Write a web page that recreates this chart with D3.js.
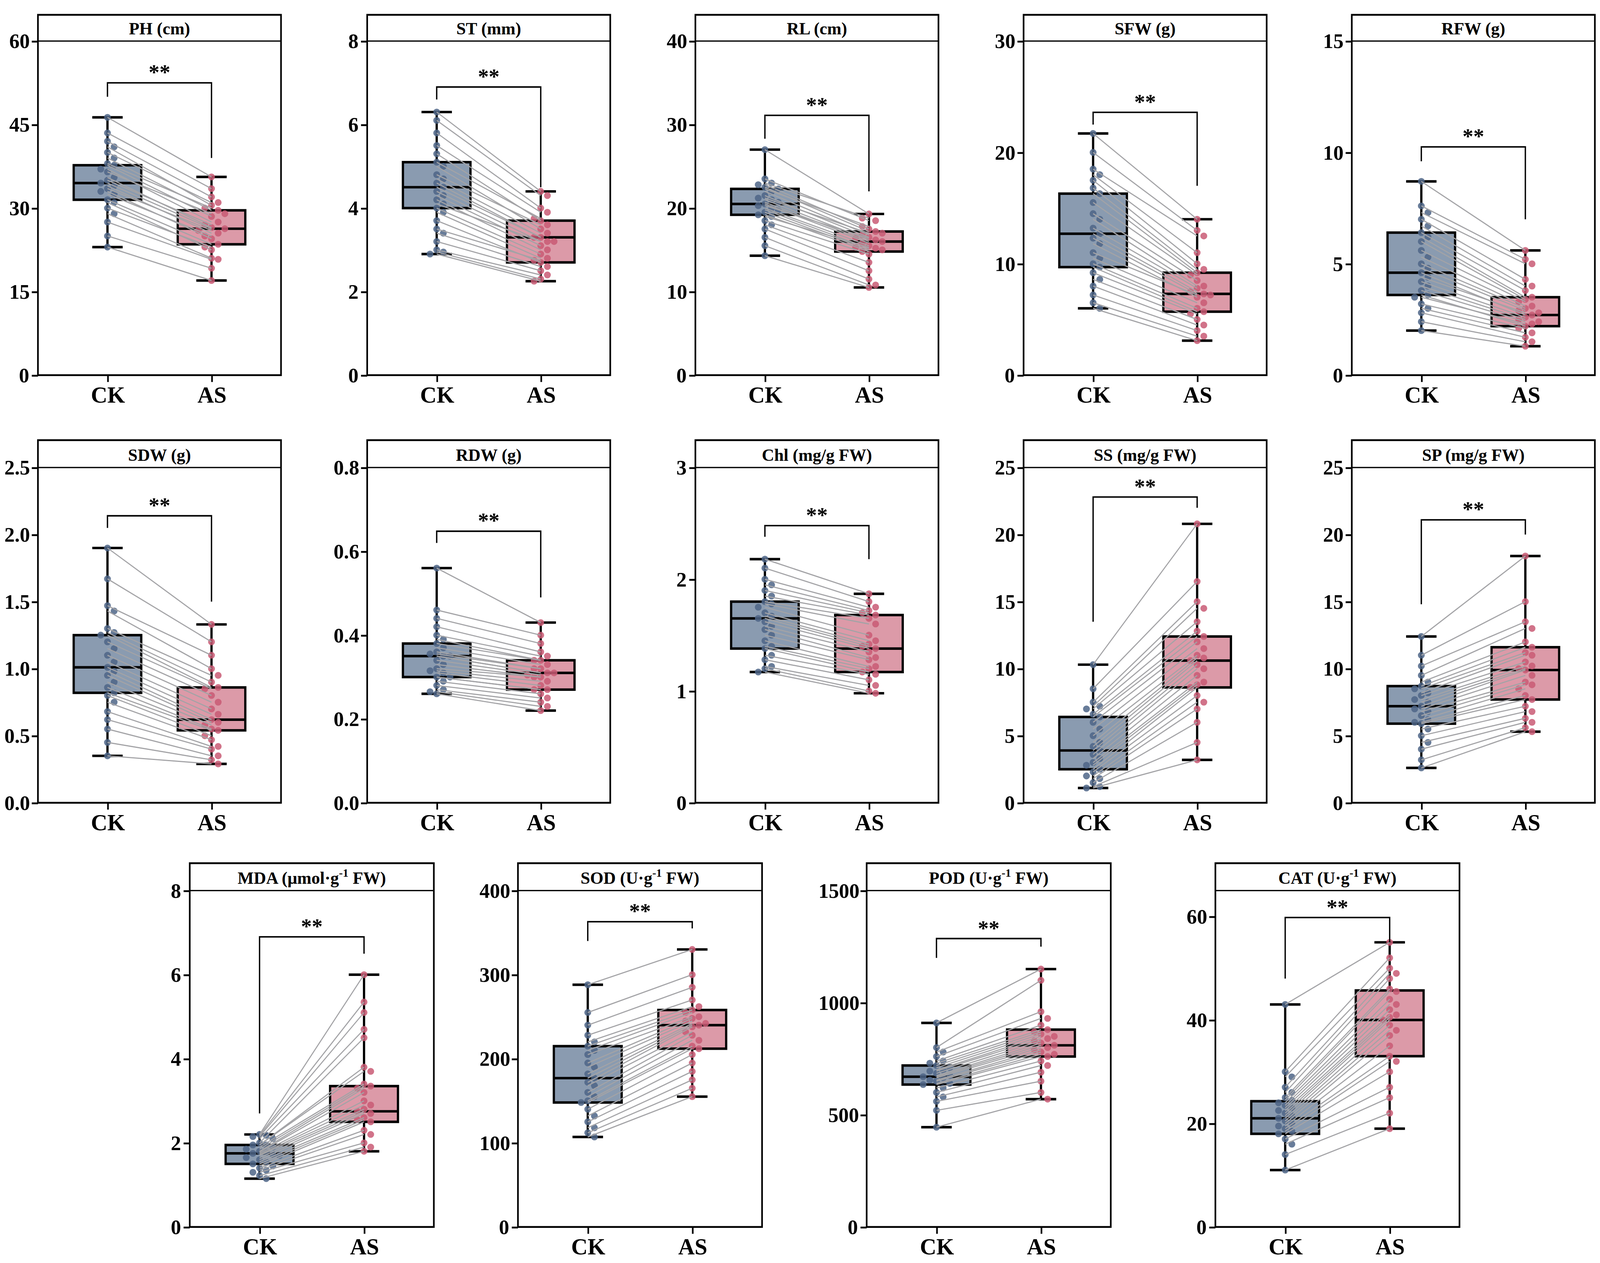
<!DOCTYPE html>
<html>
<head>
<meta charset="utf-8">
<script src="https://cdn.jsdelivr.net/npm/d3@7"></script>
<style>
  html, body { margin: 0; padding: 0; background: #fff; overflow: hidden; }
  svg { display: block; width: 100vw; height: 100vh; }
  text { font-family: "Liberation Serif", "Times New Roman", serif; font-weight: bold; }
</style>
</head>
<body>
<div id="chart"></div>
<script>
// panel names, y-axis ranges and ticks
var titles = ["PH (cm)", "ST (mm)", "RL (cm)", "SFW (g)", "RFW (g)",
  "SDW (g)", "RDW (g)", "Chl (mg/g FW)", "SS (mg/g FW)", "SP (mg/g FW)",
  "MDA (μmol·g|-1| FW)", "SOD (U·g|-1| FW)", "POD (U·g|-1| FW)", "CAT (U·g|-1| FW)"];
var yMax = [60, 8, 40, 30, 15, 2.5, 0.8, 3, 25, 25, 8, 400, 1500, 65];
var yTicks = [[0, 15, 30, 45, 60], [0, 2, 4, 6, 8], [0, 10, 20, 30, 40], [0, 10, 20, 30], [0, 5, 10, 15],
  [0, 0.5, 1, 1.5, 2, 2.5], [0, 0.2, 0.4, 0.6, 0.8], [0, 1, 2, 3], [0, 5, 10, 15, 20, 25], [0, 5, 10, 15, 20, 25],
  [0, 2, 4, 6, 8], [0, 100, 200, 300, 400], [0, 500, 1000, 1500], [0, 20, 40, 60]];
var tickFmt = [0, 0, 0, 0, 0, 1, 1, 0, 0, 0, 0, 0, 0, 0];
var groups = ["CK", "AS"];

// box stats: min, q1, median, q3, max
var ckStats = [[23, 31.5, 34.5, 37.7, 46.3], [2.9, 4.0, 4.5, 5.1, 6.3], [14.3, 19.2, 20.5, 22.3, 27], [6, 9.7, 12.7, 16.3, 21.7], [2, 3.6, 4.6, 6.4, 8.7],
  [0.35, 0.82, 1.01, 1.25, 1.9], [0.26, 0.3, 0.35, 0.38, 0.56], [1.17, 1.38, 1.65, 1.8, 2.18], [1.1, 2.5, 3.9, 6.4, 10.3], [2.6, 5.9, 7.2, 8.7, 12.4],
  [1.15, 1.5, 1.75, 1.95, 2.2], [107, 148, 177, 215, 288], [445, 635, 670, 720, 910], [11, 18, 21, 24.3, 43]];
var asStats = [[17, 23.5, 26.3, 29.6, 35.6], [2.25, 2.7, 3.3, 3.7, 4.4], [10.5, 14.8, 16, 17.2, 19.3], [3.1, 5.7, 7.3, 9.2, 14], [1.3, 2.2, 2.7, 3.5, 5.6],
  [0.29, 0.54, 0.62, 0.86, 1.33], [0.22, 0.27, 0.31, 0.34, 0.43], [0.98, 1.17, 1.38, 1.68, 1.87], [3.2, 8.6, 10.6, 12.4, 20.8], [5.3, 7.7, 9.9, 11.6, 18.4],
  [1.8, 2.5, 2.75, 3.35, 6.0], [155, 212, 240, 258, 330], [570, 760, 810, 880, 1150], [19, 33, 40, 45.7, 55]];

// significance bracket: top, left end, right end
var brackets = [[52.5, 50, 39], [6.9, 6.6, 4.5], [31.1, 28.3, 22], [23.6, 22.5, 17], [10.25, 9.6, 7],
  [2.14, 2.05, 1.5], [0.648, 0.62, 0.49], [2.48, 2.38, 2.18], [22.8, 13.5, 22], [21.1, 14.8, 20],
  [6.9, 2.7, 6.5], [363, 340, 355], [1286, 1200, 1250], [59.8, 48, 55]];

// paired observations
var ckVals = [
  [46.3, 43.5, 42, 41, 40, 39, 38, 37.7, 37, 36.5, 35.5, 35, 34.5, 34, 33.5, 33, 32.5, 31.5, 31, 30, 29, 27.5, 25, 23],
  [6.3, 6.1, 5.8, 5.5, 5.3, 5.1, 5.0, 4.8, 4.7, 4.6, 4.5, 4.4, 4.3, 4.2, 4.1, 4.0, 3.9, 3.7, 3.5, 3.4, 3.2, 3.0, 2.95, 2.9],
  [27, 23.5, 23, 22.8, 22.5, 22.3, 22, 21.5, 21.2, 21, 20.7, 20.5, 20.3, 20, 19.8, 19.5, 19.2, 19, 18.5, 18, 17.5, 16.5, 15.5, 14.3],
  [21.7, 20, 18.5, 18, 17.5, 16.8, 16.3, 15.5, 14.5, 14, 13.2, 12.7, 12.3, 11.8, 11, 10.5, 10, 9.7, 9.2, 8.6, 8, 7.2, 6.5, 6],
  [8.7, 7.6, 7.3, 7, 6.7, 6.4, 6.2, 6, 5.6, 5.3, 5, 4.8, 4.6, 4.4, 4.2, 4, 3.8, 3.6, 3.5, 3.2, 3, 2.8, 2.4, 2],
  [1.9, 1.67, 1.47, 1.43, 1.3, 1.27, 1.25, 1.2, 1.15, 1.1, 1.05, 1.01, 0.98, 0.95, 0.9, 0.86, 0.82, 0.8, 0.75, 0.68, 0.62, 0.55, 0.45, 0.35],
  [0.56, 0.46, 0.44, 0.42, 0.4, 0.39, 0.38, 0.37, 0.36, 0.355, 0.35, 0.35, 0.34, 0.33, 0.32, 0.315, 0.31, 0.3, 0.3, 0.29, 0.28, 0.27, 0.265, 0.26],
  [2.18, 2.1, 2.0, 1.95, 1.9, 1.85, 1.8, 1.78, 1.75, 1.7, 1.67, 1.65, 1.62, 1.58, 1.55, 1.5, 1.45, 1.4, 1.38, 1.32, 1.28, 1.22, 1.2, 1.17],
  [10.3, 8.5, 7.5, 7.2, 7, 6.6, 6.4, 6, 5.5, 5, 4.5, 4.2, 3.9, 3.6, 3.3, 3, 2.8, 2.5, 2.3, 2, 1.8, 1.5, 1.2, 1.1],
  [12.4, 11, 10.2, 9.5, 9, 8.7, 8.5, 8.2, 8, 7.7, 7.5, 7.2, 7, 6.8, 6.5, 6.2, 6, 5.9, 5.5, 5, 4.5, 4, 3.2, 2.6],
  [2.2, 2.18, 2.15, 2.1, 2.0, 1.95, 1.95, 1.9, 1.85, 1.8, 1.78, 1.75, 1.72, 1.7, 1.65, 1.6, 1.55, 1.5, 1.45, 1.4, 1.35, 1.3, 1.22, 1.15],
  [288, 255, 240, 228, 220, 215, 210, 205, 195, 190, 182, 177, 172, 168, 160, 155, 150, 148, 140, 132, 125, 118, 112, 107],
  [910, 800, 780, 760, 740, 730, 720, 710, 700, 695, 685, 675, 670, 665, 655, 650, 640, 635, 620, 600, 580, 560, 520, 445],
  [43, 30, 29, 27, 26, 25, 24.5, 24, 23.5, 23, 22.5, 22, 21.5, 21, 20.5, 20, 19.5, 19, 18.5, 18, 17, 16, 14, 11]
];
var asVals = [
  [35.6, 33.5, 32, 30.5, 31, 29.6, 30, 28.5, 27.5, 29, 26.5, 27, 26.3, 25.5, 26, 24.5, 25, 23.5, 22.5, 23, 21, 20.8, 19.2, 17],
  [4.4, 4.3, 4.0, 3.9, 3.7, 3.75, 3.5, 3.6, 3.4, 3.3, 3.3, 3.2, 3.1, 3.0, 3.2, 2.9, 2.8, 2.7, 2.75, 2.6, 2.5, 2.4, 2.3, 2.25],
  [19.3, 18.5, 18.8, 17.5, 17.2, 17.8, 16.8, 16.5, 17, 16.2, 16, 15.8, 16.4, 15.5, 15.2, 15, 14.8, 15.3, 14.5, 13.5, 12.5, 11.5, 10.8, 10.5],
  [14, 13, 12.5, 11, 10, 9.5, 9.2, 9, 8.5, 8, 7.8, 7.5, 7.3, 7, 7.2, 6.5, 6, 5.7, 5.5, 5, 4.5, 4, 3.5, 3.1],
  [5.6, 5.2, 5, 4.3, 4, 3.8, 3.5, 3.4, 3.3, 3.1, 3, 2.9, 2.7, 2.8, 2.6, 2.5, 2.4, 2.2, 2.3, 2.1, 1.9, 1.7, 1.5, 1.3],
  [1.33, 1.2, 1.1, 1.0, 0.95, 0.9, 0.86, 0.85, 0.8, 0.75, 0.7, 0.66, 0.62, 0.6, 0.58, 0.55, 0.54, 0.5, 0.47, 0.42, 0.4, 0.35, 0.32, 0.29],
  [0.43, 0.4, 0.38, 0.36, 0.35, 0.34, 0.34, 0.33, 0.32, 0.32, 0.31, 0.31, 0.305, 0.3, 0.3, 0.29, 0.28, 0.27, 0.27, 0.26, 0.25, 0.24, 0.23, 0.22],
  [1.87, 1.8, 1.75, 1.72, 1.7, 1.68, 1.65, 1.6, 1.5, 1.45, 1.42, 1.4, 1.38, 1.35, 1.3, 1.28, 1.22, 1.2, 1.17, 1.15, 1.1, 1.05, 1.0, 0.98],
  [20.8, 16.5, 15, 14.5, 13.5, 12.8, 12.4, 12, 11.5, 11, 10.8, 10.6, 10.3, 10, 9.5, 9, 8.8, 8.6, 8, 7.5, 7, 6, 4.5, 3.2],
  [18.4, 15, 13.5, 13, 12, 11.6, 11.2, 11, 10.5, 10.2, 10, 9.9, 9.5, 9, 8.8, 8.5, 8, 7.7, 7.2, 6.8, 6.3, 6, 5.6, 5.3],
  [6.0, 5.35, 5.1, 4.7, 4.5, 3.8, 3.7, 3.4, 3.35, 3.3, 3.2, 3.0, 2.9, 2.8, 2.75, 2.7, 2.6, 2.55, 2.5, 2.3, 2.2, 2.0, 1.9, 1.8],
  [330, 300, 285, 270, 262, 258, 255, 250, 248, 245, 242, 240, 238, 232, 228, 222, 215, 212, 205, 195, 185, 175, 165, 155],
  [1150, 1100, 960, 930, 900, 880, 870, 860, 850, 840, 830, 820, 810, 800, 790, 780, 770, 760, 740, 720, 690, 650, 600, 570],
  [55, 52, 50, 49, 48, 46, 45.5, 44, 43, 42, 41, 40.5, 40, 39, 38, 37, 35, 33, 32, 30, 27, 25, 22, 19]
];

// layout (drawn in a 1560-wide coordinate space, stretched to the window)
var W = 1560, H = 1107.6;
var rows = [
  {top: 13, line: 36, bottom: 329, lefts: [37, 358, 678, 998, 1318], width: 237},
  {top: 386, line: 410, bottom: 704, lefts: [37, 358, 678, 998, 1318], width: 237},
  {top: 757, line: 781, bottom: 1076, lefts: [185, 505, 845, 1185], width: 238}
];
var boxFill = ["#8a9bb0", "#dc9aa8"];
var dotFill = ["#4d6587", "#c95b74"];

var svg = d3.select("#chart").append("svg")
  .attr("viewBox", `0 0 ${W} ${H}`)
  .attr("preserveAspectRatio", "none");

// simple dodge so dots at similar values spread sideways
function dodge(vals, y, d) {
  var placed = [];
  return vals.map(function (v) {
    var py = y(v);
    var slots = [0, 1, -1, 2, -2, 3, -3, 4, -4];
    for (var k = 0; k < slots.length; k++) {
      var px = slots[k] * d;
      var ok = placed.every(p => Math.hypot(p[0] - px, p[1] - py) >= d * 0.95);
      if (ok) { placed.push([px, py]); return px; }
    }
    return 0;
  });
}

var idx = 0;
rows.forEach(function (row) {
  row.lefts.forEach(function (left) {
    var i = idx++;
    var g = svg.append("g");
    var x = d3.scalePoint().domain(groups).range([left + row.width * 0.286, left + row.width * 0.714]);
    var y = d3.scaleLinear().domain([0, yMax[i]]).range([row.bottom, row.line]);
    var bw = row.width * 0.139;

    // frame + title strip
    g.append("rect").attr("x", left).attr("y", row.top).attr("width", row.width)
      .attr("height", row.bottom - row.top).attr("fill", "none").attr("stroke", "#000").attr("stroke-width", 1.6);
    g.append("line").attr("x1", left).attr("x2", left + row.width).attr("y1", row.line).attr("y2", row.line)
      .attr("stroke", "#000").attr("stroke-width", 1.1);
    var parts = titles[i].split("|");
    var t = g.append("text").attr("x", left + row.width / 2).attr("y", row.line - 6)
      .attr("text-anchor", "middle").attr("font-size", 15);
    t.append("tspan").text(parts[0]);
    if (parts.length > 1) {
      t.append("tspan").attr("dy", -6).attr("font-size", 10).text(parts[1]);
      t.append("tspan").attr("dy", 6).text(parts[2]);
    }

    // axes
    var fmt = tickFmt[i] ? d3.format(".1f") : d3.format("d");
    var ya = g.append("g").attr("transform", `translate(${left},0)`)
      .call(d3.axisLeft(y).tickValues(yTicks[i]).tickFormat(fmt).tickSize(6).tickPadding(3));
    ya.select(".domain").remove();
    var xa = g.append("g").attr("transform", `translate(0,${row.bottom})`)
      .call(d3.axisBottom(x).tickSize(6).tickPadding(4));
    xa.select(".domain").remove();
    [ya, xa].forEach(a => {
      a.selectAll("line").attr("stroke", "#000").attr("stroke-width", 1.6);
      a.selectAll("text").attr("fill", "#000").style("font-family", "Liberation Serif").style("font-weight", "bold");
    });
    ya.selectAll("text").attr("font-size", 18);
    xa.selectAll("text").attr("font-size", 20);

    var stats = [ckStats[i], asStats[i]];
    var vals = [ckVals[i], asVals[i]];

    // boxes
    groups.forEach(function (grp, j) {
      var s = stats[j], cx = x(grp);
      g.append("rect").attr("x", cx - bw).attr("y", y(s[3])).attr("width", bw * 2)
        .attr("height", y(s[1]) - y(s[3])).attr("fill", boxFill[j]).attr("stroke", "#000").attr("stroke-width", 2.2);
      g.append("line").attr("x1", cx).attr("x2", cx).attr("y1", y(s[4])).attr("y2", y(s[3]))
        .attr("stroke", "#000").attr("stroke-width", 2.2);
      g.append("line").attr("x1", cx).attr("x2", cx).attr("y1", y(s[1])).attr("y2", y(s[0]))
        .attr("stroke", "#000").attr("stroke-width", 2.2);
      [s[0], s[4]].forEach(v => g.append("line").attr("x1", cx - bw * 0.45).attr("x2", cx + bw * 0.45)
        .attr("y1", y(v)).attr("y2", y(v)).attr("stroke", "#000").attr("stroke-width", 2.2));
      g.append("line").attr("x1", cx - bw).attr("x2", cx + bw).attr("y1", y(s[2])).attr("y2", y(s[2]))
        .attr("stroke", "#000").attr("stroke-width", 2.2);
    });

    // dots
    groups.forEach(function (grp, j) {
      var offs = dodge(vals[j], y, 6.5);
      g.selectAll(null).data(vals[j]).enter().append("ellipse")
        .attr("cx", (d, k) => x(grp) + offs[k]).attr("cy", d => y(d)).attr("rx", 3).attr("ry", 3)
        .attr("fill", dotFill[j]).attr("fill-opacity", 0.85);
    });

    // paired lines
    g.selectAll(null).data(d3.zip(vals[0], vals[1])).enter().append("line")
      .attr("x1", x("CK")).attr("x2", x("AS"))
      .attr("y1", d => y(d[0])).attr("y2", d => y(d[1]))
      .attr("stroke", "#a3a3a6").attr("stroke-width", 1);

    // significance bracket
    var b = brackets[i];
    g.append("path")
      .attr("d", `M${x("CK")},${y(b[1])}V${y(b[0])}H${x("AS")}V${y(b[2])}`)
      .attr("fill", "none").attr("stroke", "#000").attr("stroke-width", 1.3);
    g.append("text").attr("x", (x("CK") + x("AS")) / 2).attr("y", y(b[0]) - 3)
      .attr("text-anchor", "middle").attr("font-size", 19).text("**");
  });
});

// undo the horizontal squeeze of the stretched viewBox on text and dots
var sx = window.innerWidth / W, sy = window.innerHeight / H, k = sy / sx;
svg.selectAll("text").style("transform-box", "fill-box").style("transform-origin", "center")
  .style("transform", `scaleX(${k})`);
svg.selectAll("ellipse").attr("rx", 3 * k);
</script>
</body>
</html>
